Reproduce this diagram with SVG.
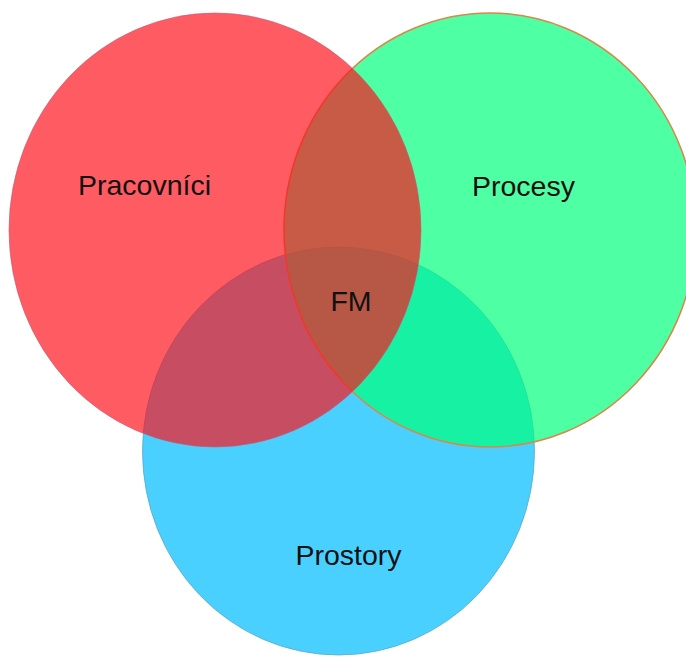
<svg xmlns="http://www.w3.org/2000/svg" width="686" height="657" viewBox="0 0 686 657">
  <style>
    .label { font-family: "Liberation Sans", Arial, sans-serif; font-size: 28.5px; fill: #111; text-anchor: middle; }
    .set-blue  { fill: rgb(0,189,255); fill-opacity: 0.71; stroke: #5aa9c8; stroke-width: 1; stroke-opacity: 0.8; }
    .set-green { fill: rgb(0,255,121); fill-opacity: 0.69; stroke: #d9884a; stroke-width: 1.5; }
    .set-red   { fill: rgb(253,19,29); fill-opacity: 0.695; stroke: #c45a78; stroke-width: 1; stroke-opacity: 0.6; }
  </style>
  <rect width="686" height="657" fill="#ffffff"/>

  <!-- Bottom set: Prostory -->
  <g id="prostory">
    <ellipse class="set-blue" cx="338.5" cy="451" rx="196" ry="204"/>
    <text class="label" x="348.5" y="565">Prostory</text>
  </g>

  <!-- Right set: Procesy -->
  <g id="procesy">
    <ellipse class="set-green" cx="490" cy="230" rx="206" ry="217"/>
    <text class="label" x="523.5" y="196">Procesy</text>
  </g>

  <!-- Left set: Pracovníci -->
  <g id="pracovnici">
    <ellipse class="set-red" cx="215" cy="230" rx="206" ry="217"/>
    <text class="label" x="144.5" y="195">Pracovníci</text>
  </g>

  <!-- Common intersection -->
  <g id="fm">
    <text class="label" x="351" y="311">FM</text>
  </g>

  <g id="connectors"></g>
</svg>
